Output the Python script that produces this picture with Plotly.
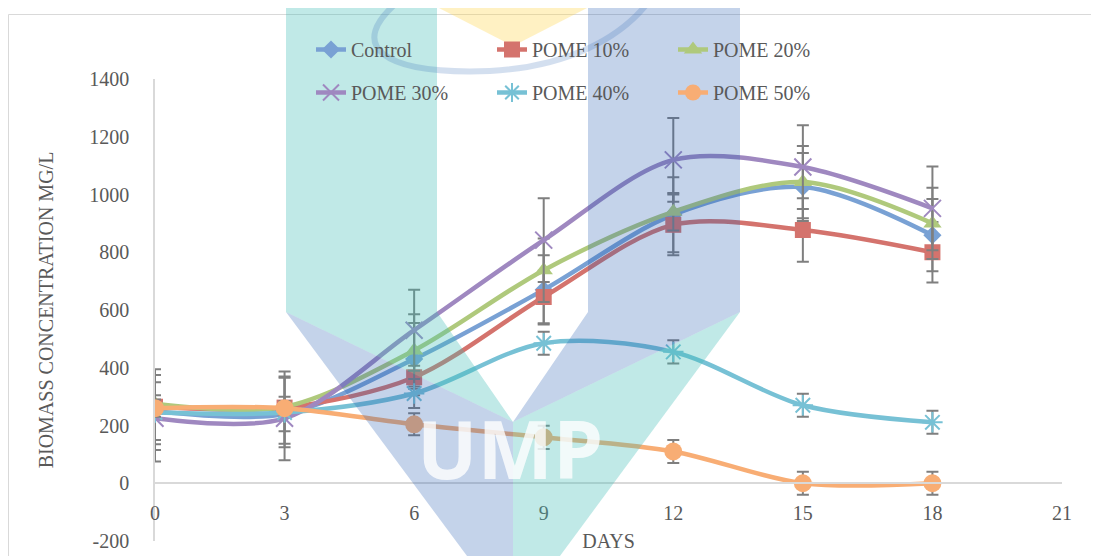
import plotly.graph_objects as go

days = [0, 3, 6, 9, 12, 15, 18]
series_names = ["Control", "POME 10%", "POME 20%", "POME 30%", "POME 40%", "POME 50%"]

control = [250, 240, 430, 670, 930, 1026, 859]
pome10 = [265, 262, 367, 645, 895, 877, 800]
pome20 = [275, 265, 460, 738, 940, 1043, 900]
pome30 = [225, 225, 530, 842, 1120, 1095, 952]
pome40 = [245, 245, 311, 485, 455, 270, 211]
pome50 = [260, 260, 204, 159, 110, 0, 0]

err_control = [100, 60, 125, 120, 130, 118, 125]
err_pome10 = [130, 125, 40, 91, 105, 110, 105]
err_pome20 = [30, 20, 125, 110, 65, 125, 123]
err_pome30 = [150, 145, 140, 145, 145, 145, 145]
err_pome40 = [130, 120, 50, 40, 40, 40, 40]
err_pome50 = [30, 20, 38, 40, 40, 40, 40]

x_ticks = [0, 3, 6, 9, 12, 15, 18, 21]
y_ticks = [-200, 0, 200, 400, 600, 800, 1000, 1200, 1400]
y_tick_labels = ["-200", "0", "200", "400", "600", "800", "1000", "1200", "1400"]

values = [control, pome10, pome20, pome30, pome40, pome50]
errors = [err_control, err_pome10, err_pome20, err_pome30, err_pome40, err_pome50]
colors = ["#79a1d4", "#d4736d", "#afc97c", "#9f88c0", "#77c1d5", "#f8ad74"]
symbols = ["diamond", "square", "triangle-up", "x-thin-open", "asterisk-open", "circle"]
sizes = [14, 16, 16, 17, 17, 18]
legends = ["legend", "legend", "legend", "legend2", "legend2", "legend2"]

FONT = "Liberation Serif"
GREY = "#595959"

# geometry in window pixels; the page body has an 8px margin
OFF = 8
L, R, T, B = 155, 1062, 79, 541
W, H = 1099 - OFF, 556 - OFF


def px(x):
    return (x - L) / (R - L)


def py(y):
    return (B - y) / (B - T)


def path(points):
    return "M " + " L ".join(f"{px(a):.5f},{py(b):.5f}" for a, b in points) + " Z"


fig = go.Figure()
for name, v, e, c, s, sz, lg in zip(series_names, values, errors, colors, symbols, sizes, legends):
    open_sym = s.endswith("open")
    fig.add_trace(go.Scatter(
        x=days, y=v, name=name, mode="lines+markers",
        line=dict(color=c, width=4.5, shape="spline", smoothing=0.9),
        marker=dict(symbol=s, size=sz, color=c,
                    line=dict(color=c, width=2 if open_sym else 0)),
        error_y=dict(type="data", array=e, visible=True, color="#7f7f7f",
                     thickness=2, width=6),
        legend=lg,
    ))

shapes = []
# outer chart border
shapes.append(dict(type="rect", xref="paper", yref="paper",
                   x0=px(8.5), x1=px(1110), y0=py(570), y1=py(14.5),
                   line=dict(color="#d9d9d9", width=1), fillcolor="rgba(0,0,0,0)",
                   layer="below"))
# watermark
teal = "#3fbdb5"
blue = "#2b62b2"
shapes += [
    dict(type="path", xref="paper", yref="paper", layer="above", opacity=0.33,
         path=path([(286, 0), (437, 0), (437, 312), (513, 422), (286, 312)]),
         fillcolor=teal, line=dict(width=0)),
    dict(type="path", xref="paper", yref="paper", layer="above", opacity=0.33,
         path=path([(513, 422), (740, 312), (557, 560), (513, 560)]),
         fillcolor=teal, line=dict(width=0)),
    dict(type="path", xref="paper", yref="paper", layer="above", opacity=0.28,
         path=path([(588, 0), (740, 0), (740, 312), (513, 422), (588, 312)]),
         fillcolor=blue, line=dict(width=0)),
    dict(type="path", xref="paper", yref="paper", layer="above", opacity=0.28,
         path=path([(286, 312), (513, 422), (513, 560), (470, 560)]),
         fillcolor=blue, line=dict(width=0)),
    dict(type="path", xref="paper", yref="paper", layer="above", opacity=0.33,
         path=path([(440, 0), (437, 7), (513, 46), (589, 7), (586, 0)]),
         fillcolor="#ffd54a", line=dict(width=0)),
    dict(type="path", xref="paper", yref="paper", layer="above", opacity=0.2,
         path=(f"M {px(400):.5f},{py(0):.5f} C {px(345):.5f},{py(45):.5f} {px(380):.5f},{py(75):.5f} {px(490):.5f},{py(71):.5f} "
               f"C {px(565):.5f},{py(67):.5f} {px(620):.5f},{py(40):.5f} {px(650):.5f},{py(0):.5f}"),
         line=dict(color=blue, width=6)),
]

fig.update_layout(
    width=W, height=H,
    margin=dict(l=L - OFF, r=W - (R - OFF), t=T - OFF, b=H - (B - OFF), autoexpand=False),
    paper_bgcolor="white", plot_bgcolor="rgba(0,0,0,0)",
    font=dict(family=FONT, color=GREY, size=20),
    showlegend=True,
    shapes=shapes,
    xaxis=dict(range=[0, 21], tickvals=x_ticks, showgrid=False, zeroline=False,
               showline=True, linecolor="#d9d9d9", linewidth=1.5,
               anchor="free", position=py(483), ticks="", ticklabelstandoff=12,
               tickfont=dict(size=20, color=GREY, family=FONT),
               title=dict(text="DAYS", font=dict(size=20, color=GREY, family=FONT), standoff=10),
               automargin=False),
    yaxis=dict(range=[-200, 1400], tickvals=y_ticks, ticktext=y_tick_labels,
               showgrid=False, zeroline=False,
               showline=True, linecolor="#d9d9d9", linewidth=1.5, ticks="",
               ticklabelstandoff=20,
               tickfont=dict(size=20, color=GREY, family=FONT),
               title=dict(text="BIOMASS CONCENTRATION MG/L",
                          font=dict(size=20, color=GREY, family=FONT), standoff=30),
               automargin=False),
    legend=dict(orientation="h", x=px(311), y=py(30), xanchor="left", yanchor="top",
                entrywidthmode="pixels", entrywidth=136, bgcolor="rgba(0,0,0,0)",
                font=dict(size=20, color=GREY, family=FONT), traceorder="normal"),
    legend2=dict(orientation="h", x=px(311), y=py(73), xanchor="left", yanchor="top",
                 entrywidthmode="pixels", entrywidth=136, bgcolor="rgba(0,0,0,0)",
                 font=dict(size=20, color=GREY, family=FONT), traceorder="normal"),
    annotations=[dict(text="<b>UMP</b>", xref="paper", yref="paper",
                      x=px(510), y=py(447), xanchor="center", yanchor="middle",
                      showarrow=False,
                      font=dict(family="Open Sans", size=80, color="white"),
                      opacity=0.8)],
)

fig.write_html("out.html")
